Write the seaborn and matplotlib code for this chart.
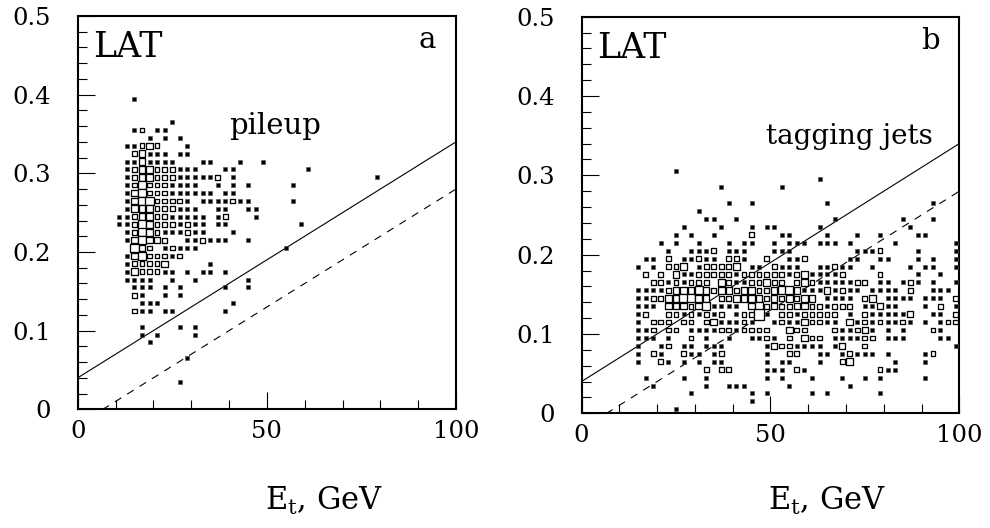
import matplotlib
matplotlib.use("Agg")
import matplotlib.pyplot as plt
import seaborn as sns
import pandas as pd
from matplotlib.ticker import MultipleLocator, FuncFormatter

# ---------------- data (2D histogram cells: "x_start:counts", bins 2 GeV wide, step 0.01) ----
PILEUP_ROWS = {
    0.395: "15:1", 0.365: "25:1", 0.355: "15:12.11", 0.345: "19:1.1.1",
    0.335: "13:11232 29:1", 0.325: "15:23111.11",
    0.315: "13:1131111 33:11 43:1 49:1", 0.305: "13:1233222111 39:11 61:1",
    0.295: "13:1233222111112.1 79:1", 0.285: "13:1242221111 37:1.1.1 57:1",
    0.275: "13:134222111111.11", 0.265: "13:134422221.1111211 57:1",
    0.255: "13:1333222111..11..11", 0.245: "11:112332211111.12...1",
    0.235: "11:112432221211.11 59:1", 0.225: "13:12432111211 41:1",
    0.215: "13:134332..112111..1", 0.205: "15:432.12111 55:1",
    0.195: "13:13422212", 0.185: "13:122223 35:1", 0.175: "13:1322211.1.11.1",
    0.165: "13:1111..1..1 45:1", 0.155: "15:111.1.1 39:1 45:1", 0.145: "15:21..1.1",
    0.135: "17:111 41:1", 0.125: "15:211.11 39:1", 0.105: "17:1 27:1 31:1",
    0.095: "17:1.1 31:1", 0.085: "19:1", 0.065: "29:1", 0.035: "27:1",
}
JETS_ROWS = {
    0.305: "25:1", 0.295: "63:1", 0.285: "37:1 53:1", 0.265: "39:1 45:1 65:1 93:1",
    0.255: "31:1", 0.245: "33:11 41:1 67:1 85:1 93:1",
    0.235: "27:1 37:1 45:1 49:11 63:1 87:1",
    0.225: "25:1.1 35:1 45:2 53:11 65:1 73:1 79:1 89:11",
    0.215: "21:1.1 31:1 39:1.11 51:1.111 63:111 71:1 83:1 99:1",
    0.205: "23:1 29:1112 39:111 51:111 73:1112 89:1 99:1",
    0.195: "17:11.2.11211.221 49:2 55:112 71:11 79:11 89:1 93:1 99:1",
    0.185: "15:1.1.223.122223.11.2111 63:11211 77:1 87:1 91:11 99:1",
    0.175: "17:2.2.31122222122222212311112 79:2 89:1 95:1",
    0.165: "19:22121222.321122322 57:2321111122.11.121.1..1",
    0.155: "15:111123334323323322344311131211.1111.2..111",
    0.145: "15:1122334433.2233332323233.1111.23.1111.111.2",
    0.135: "15:111.3332341111.34232233221222.11311...1.2.1",
    0.125: "15:12..22121212.12251.22122222.1.2111113..11.2",
    0.115: "15:1.222.22.2311121..121132211.312121121.1.122",
    0.105: "15:112.22.11112212222..322...211231.1.1...21",
    0.095: "15:111.1..2.1..1..1121.2.322.111122.111....11",
    0.085: "15:1 21:12.11.111 49:13221111.13..2 99:1",
    0.075: "15:1.21..211.12 49:1..22..11.12111.1 91:12",
    0.065: "15:1..21.1.1.11 49:1.11 63:1..23 83:1 91:1",
    0.055: "33:2.22 49:111 57:21 79:211",
    0.045: "17:1....1..1 49:1.1 61:1...1..1.1 91:1",
    0.035: "19:1 33:1..111 55:1 71:1",
    0.025: "29:1 45:1.1 61:1.1 79:1",
    0.015: "45:1", 0.005: "25:1",
}
PANEL_LABELS = ["a", "b"]
PANEL_NAMES = ["pileup", "tagging jets"]
LINE_X = [0, 100]
SOLID_Y = [0.04, 0.34]
DASHED_Y = [-0.02, 0.28]
XLABEL = r"E$_{\mathrm{t}}$, GeV"


def parse(rows):
    xs, ys, cs = [], [], []
    for y, spec in rows.items():
        for seg in spec.split():
            x0, digits = seg.split(":")
            for k, ch in enumerate(digits):
                if ch != ".":
                    xs.append(int(x0) + 2 * k)
                    ys.append(y)
                    cs.append(int(ch))
    return pd.DataFrame({"x": xs, "y": ys, "count": cs})


sns.set_theme(style="white")
plt.rcParams["font.family"] = ["DejaVu Serif"]
plt.rcParams["mathtext.fontset"] = "dejavuserif"
plt.rcParams["lines.scale_dashes"] = False

W, H = 990, 528
fig = plt.figure(figsize=(W / 100, H / 100), dpi=100)
fig.patch.set_facecolor("white")

# axes boxes in pixels: left, top, right, bottom
boxes = [(77.7, 16.0, 456.0, 409.3), (581.5, 16.7, 959.3, 413.3)]

PX2PT = 72 / 100
SIDE_PX = {1: 4.2, 2: 6.0, 3: 7.8, 4: 9.5, 5: 12.0}
LW_PX = 1.3


def side_to_s(side, lw):
    return ((side - lw) * PX2PT) ** 2


for i, rows in enumerate([PILEUP_ROWS, JETS_ROWS]):
    l, t, r, b = boxes[i]
    ax = fig.add_axes([l / W, 1 - b / H, (r - l) / W, (b - t) / H])
    df = parse(rows)
    d1 = df[df["count"] == 1]
    d2 = df[df["count"] >= 2]

    sns.lineplot(x=LINE_X, y=SOLID_Y, ax=ax, color="black", linewidth=0.8)
    sns.lineplot(x=LINE_X, y=DASHED_Y, ax=ax, color="black", linewidth=0.8,
                 linestyle=(0, (5.5, 5.0)))

    sns.scatterplot(data=d1, x="x", y="y", ax=ax, marker="s",
                    s=side_to_s(SIDE_PX[1], 0.6), color="black",
                    edgecolor="#505050", linewidth=0.6 * PX2PT, legend=False, zorder=3)
    levels = sorted(d2["count"].unique())
    sns.scatterplot(data=d2, x="x", y="y", ax=ax, marker="s", size="count",
                    sizes={k: side_to_s(SIDE_PX[k], LW_PX) for k in levels},
                    color="white", edgecolor="black", linewidth=LW_PX * PX2PT,
                    legend=False, zorder=3)

    ax.set_xlim(0, 100)
    ax.set_ylim(0, 0.5)
    ax.set_xlabel("")
    ax.set_ylabel("")
    ax.xaxis.set_major_locator(MultipleLocator(50))
    ax.xaxis.set_minor_locator(MultipleLocator(10))
    ax.yaxis.set_major_locator(MultipleLocator(0.1))
    ax.yaxis.set_minor_locator(MultipleLocator(0.02))
    ax.xaxis.set_major_formatter(FuncFormatter(lambda v, _: f"{v:.0f}"))
    ax.yaxis.set_major_formatter(
        FuncFormatter(lambda v, _: "0" if abs(v) < 1e-9 else f"{v:.1f}"))
    ax.tick_params(which="both", direction="in", bottom=True, left=True,
                   top=False, right=False,
                   color="black", width=0.8, labelsize=17.5, labelcolor="black")
    ax.tick_params(which="major", length=12.5)
    ax.tick_params(which="minor", length=6.5)
    ax.tick_params(axis="y", which="major", pad=19)
    ax.tick_params(axis="x", which="major", pad=7.5)
    for sp in ax.spines.values():
        sp.set_visible(True)
        sp.set_color("black")
        sp.set_linewidth(1.5)
    ax.set_facecolor("white")

    ax.text((93 - 77.7) / 378.3, (409.3 - 57) / 393.3, "LAT", transform=ax.transAxes,
            fontsize=25, ha="left", va="baseline", color="black")
    ax.text((418 - 77.7) / 378.3, (409.3 - 48.3) / 393.3, PANEL_LABELS[i],
            transform=ax.transAxes, fontsize=21, ha="left", va="baseline", color="black")
    if i == 0:
        ax.text(0.40, 0.700, PANEL_NAMES[i], transform=ax.transAxes,
                fontsize=21, ha="left", va="baseline", color="black")
    else:
        ax.text(0.93, 0.68, PANEL_NAMES[i], transform=ax.transAxes,
                fontsize=20, ha="right", va="baseline", color="black")

    fig.text((l + 0.5 * (r - l) - 2) / W, 1 - 510 / H, XLABEL, fontsize=22,
             ha="left", va="baseline", color="black")

fig.savefig("out.png", dpi=100, facecolor="white")
